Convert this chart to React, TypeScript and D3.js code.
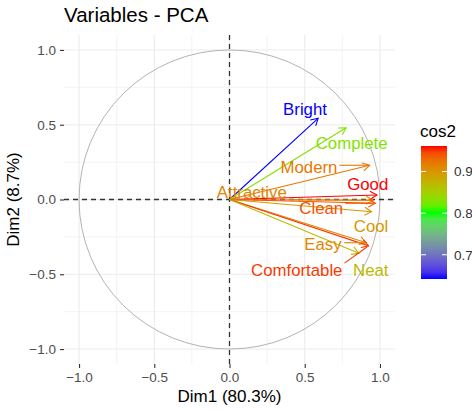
import React, { useEffect, useRef } from 'react';
import * as d3 from 'd3';

// PCA variable coordinates
const variables = ['Bright', 'Complete', 'Modern', 'Good', 'Attractive', 'Clean', 'Cool', 'Easy', 'Comfortable', 'Neat'];
const dim1 = [0.589, 0.775, 0.932, 0.98, 0.955, 0.97, 0.944, 0.91, 0.925, 0.86];
const dim2 = [0.543, 0.48, 0.229, 0.03, -0.005, -0.025, -0.082, -0.289, -0.31, -0.36];
// repelled label anchors, in data units
const labelDim1 = [0.502, 0.812, 0.528, 0.919, 0.148, 0.61, 0.941, 0.621, 0.447, 0.939];
const labelDim2 = [0.605, 0.38, 0.215, 0.102, 0.052, -0.059, -0.177, -0.3, -0.472, -0.472];

const axisTicks = [-1, -0.5, 0, 0.5, 1];
const minorTicks = [-0.75, -0.25, 0.25, 0.75];
const legendTicks = [0.7, 0.8, 0.9];

const W = 472, H = 411;
const FONT = '"Liberation Sans", Arial, sans-serif';

export default function App() {
    const ref = useRef<SVGSVGElement>(null);

    useEffect(() => {
        const svg = d3.select(ref.current);
        svg.selectAll('*').remove();

        const x = d3.scaleLinear().domain([-1.1, 1.1]).range([64, 395]);
        const y = d3.scaleLinear().domain([-1.1, 1.1]).range([364, 35]);

        const cos2 = variables.map((_, i) => dim1[i] * dim1[i] + dim2[i] * dim2[i]);
        const [lo, hi] = d3.extent(cos2) as [number, number];
        const color = d3.scaleLinear<string>()
            .domain([lo, (lo + hi) / 2, hi])
            .range(['#0000FF', '#00FF00', '#FF0000'])
            .interpolate(d3.interpolateLab);

        // grid
        const grid = svg.append('g');
        minorTicks.forEach(t => {
            grid.append('line').attr('x1', x(t)).attr('x2', x(t)).attr('y1', 35).attr('y2', 364)
                .attr('stroke', '#EBEBEB').attr('stroke-width', 0.6);
            grid.append('line').attr('y1', y(t)).attr('y2', y(t)).attr('x1', 64).attr('x2', 395)
                .attr('stroke', '#EBEBEB').attr('stroke-width', 0.6);
        });
        axisTicks.forEach(t => {
            grid.append('line').attr('x1', x(t)).attr('x2', x(t)).attr('y1', 35).attr('y2', 364)
                .attr('stroke', '#EBEBEB').attr('stroke-width', 1.1);
            grid.append('line').attr('y1', y(t)).attr('y2', y(t)).attr('x1', 64).attr('x2', 395)
                .attr('stroke', '#EBEBEB').attr('stroke-width', 1.1);
        });

        // axes
        const xAxis = svg.append('g').attr('transform', 'translate(0,364)')
            .call(d3.axisBottom(x).tickValues(axisTicks).tickFormat(d3.format('.1f')).tickSize(4).tickPadding(4));
        const yAxis = svg.append('g').attr('transform', 'translate(64,0)')
            .call(d3.axisLeft(y).tickValues(axisTicks).tickFormat(d3.format('.1f')).tickSize(4).tickPadding(4));
        [xAxis, yAxis].forEach(a => {
            a.select('.domain').remove();
            a.selectAll('line').attr('stroke', '#333333').attr('stroke-width', 1.1);
            a.selectAll('text').attr('fill', '#4D4D4D').style('font-family', FONT).style('font-size', '13.5px');
        });

        // correlation circle
        svg.append('ellipse').attr('cx', x(0)).attr('cy', y(0))
            .attr('rx', x(1) - x(0)).attr('ry', y(0) - y(1))
            .attr('fill', 'none').attr('stroke', '#B3B3B3').attr('stroke-width', 1);

        // dashed reference lines
        svg.append('line').attr('x1', 64).attr('x2', 395).attr('y1', y(0)).attr('y2', y(0))
            .attr('stroke', '#333').attr('stroke-width', 1.3).attr('stroke-dasharray', '5,4');
        svg.append('line').attr('x1', x(0)).attr('x2', x(0)).attr('y1', 35).attr('y2', 364)
            .attr('stroke', '#333').attr('stroke-width', 1.3).attr('stroke-dasharray', '5,4');

        // arrows
        const arrows = svg.append('g');
        variables.forEach((v, i) => {
            const x0 = x(0), y0 = y(0), x1 = x(dim1[i]), y1 = y(dim2[i]);
            const c = color(cos2[i]);
            const ang = Math.atan2(y1 - y0, x1 - x0);
            const len = 8, spread = Math.PI / 6;
            arrows.append('line').attr('x1', x0).attr('y1', y0).attr('x2', x1).attr('y2', y1)
                .attr('stroke', c).attr('stroke-width', 1.1);
            const head = [ang + Math.PI - spread, ang + Math.PI + spread]
                .map(a => [x1 + len * Math.cos(a), y1 + len * Math.sin(a)]);
            arrows.append('path')
                .attr('d', `M${head[0][0]},${head[0][1]}L${x1},${y1}L${head[1][0]},${head[1][1]}`)
                .attr('fill', 'none').attr('stroke', c).attr('stroke-width', 1.1);
        });

        // labels + repel segments
        const labels = svg.append('g');
        variables.forEach((v, i) => {
            const c = color(cos2[i]);
            const t = labels.append('text').attr('x', x(labelDim1[i])).attr('y', y(labelDim2[i]))
                .attr('dy', '0.36em').attr('text-anchor', 'middle').attr('fill', c)
                .style('font-family', FONT).style('font-size', '16.8px').text(v);
            const b = (t.node() as SVGTextElement).getBBox();
            const px = x(dim1[i]), py = y(dim2[i]);
            const bx = Math.max(b.x, Math.min(px, b.x + b.width));
            const by = Math.max(b.y + 2, Math.min(py, b.y + b.height - 2));
            const d = Math.hypot(px - bx, py - by);
            if (d > 14) {
                const k = (d - 2) / d;
                labels.insert('line', 'text').attr('x1', bx + 2).attr('y1', by)
                    .attr('x2', bx + (px - bx) * k).attr('y2', by + (py - by) * k)
                    .attr('stroke', c).attr('stroke-width', 1.1);
            }
        });

        // titles
        svg.append('text').attr('x', 64).attr('y', 22).text('Variables - PCA')
            .style('font-family', FONT).style('font-size', '20.5px').attr('fill', '#000');
        svg.append('text').attr('x', (64 + 395) / 2).attr('y', 402).attr('text-anchor', 'middle')
            .text('Dim1 (80.3%)').style('font-family', FONT).style('font-size', '17px').attr('fill', '#000');
        svg.append('text').attr('transform', `translate(19,${(35 + 364) / 2}) rotate(-90)`)
            .attr('text-anchor', 'middle').text('Dim2 (8.7%)')
            .style('font-family', FONT).style('font-size', '17px').attr('fill', '#000');

        // colour legend
        const barTop = 146, barBottom = 279, barX = 421, barW = 26;
        const ly = d3.scaleLinear().domain([lo, hi]).range([barBottom, barTop]);
        const grad = svg.append('defs').append('linearGradient').attr('id', 'cos2grad')
            .attr('x1', 0).attr('y1', 1).attr('x2', 0).attr('y2', 0);
        d3.range(0, 1.0001, 0.05).forEach(f => {
            grad.append('stop').attr('offset', f).attr('stop-color', color(lo + f * (hi - lo)));
        });
        svg.append('text').attr('x', barX - 1).attr('y', 137).text('cos2')
            .style('font-family', FONT).style('font-size', '17px').attr('fill', '#000');
        svg.append('rect').attr('x', barX).attr('y', barTop).attr('width', barW).attr('height', barBottom - barTop)
            .attr('fill', 'url(#cos2grad)');
        legendTicks.forEach(t => {
            const yy = ly(t);
            svg.append('line').attr('x1', barX).attr('x2', barX + 5).attr('y1', yy).attr('y2', yy)
                .attr('stroke', '#fff').attr('stroke-width', 1);
            svg.append('line').attr('x1', barX + barW - 5).attr('x2', barX + barW).attr('y1', yy).attr('y2', yy)
                .attr('stroke', '#fff').attr('stroke-width', 1);
            svg.append('text').attr('x', 454).attr('y', yy).attr('dy', '0.36em').text(d3.format('.1f')(t))
                .style('font-family', FONT).style('font-size', '13.5px').attr('fill', '#333');
        });
    }, []);

    return (
        <svg ref={ref} width={W} height={H}
             style={{ position: 'absolute', left: 0, top: 0, background: '#fff' }} />
    );
}
